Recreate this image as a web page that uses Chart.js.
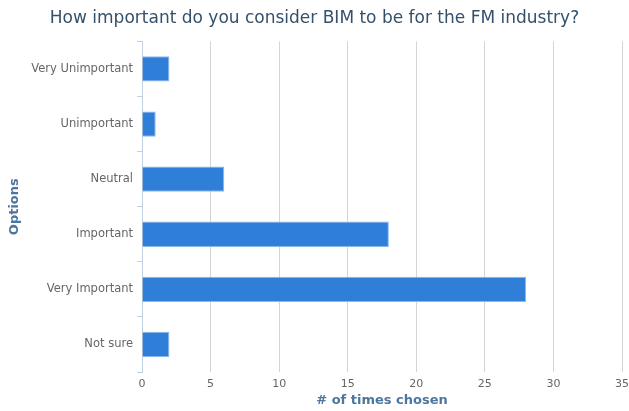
<!DOCTYPE html>
<html>
<head>
<meta charset="utf-8">
<script src="https://cdn.jsdelivr.net/npm/chart.js@4"></script>
<style>
  html, body { margin: 0; padding: 0; background: #fff; }
  #wrap { width: 629px; height: 411px; }
</style>
</head>
<body>
<div id="wrap"><canvas id="chart"></canvas></div>
<script>
const categories = ['Very Unimportant', 'Unimportant', 'Neutral', 'Important', 'Very Important', 'Not sure'];
const timesChosen = [2, 1, 6, 18, 28, 2];
const xTicks = { min: 0, max: 35, step: 5 };

const FONT = '"DejaVu Sans", Verdana, sans-serif';

new Chart(document.getElementById('chart'), {
  type: 'bar',
  data: {
    labels: categories,
    datasets: [{
      data: timesChosen,
      backgroundColor: '#2f7ed8',
      borderColor: '#8cb9ec',
      borderWidth: 1,
      barPercentage: 0.46,
      categoryPercentage: 1
    }]
  },
  options: {
    indexAxis: 'y',
    responsive: true,
    maintainAspectRatio: false,
    animation: false,
    layout: { padding: { left: 0, right: 0, top: 0, bottom: 0 } },
    plugins: {
      legend: { display: false },
      tooltip: { enabled: false },
      title: {
        display: true,
        text: 'How important do you consider BIM to be for the FM industry?',
        color: '#34506b',
        font: { family: FONT, size: 17, weight: 'normal' },
        padding: { top: 8, bottom: 13 }
      }
    },
    scales: {
      x: {
        min: xTicks.min,
        max: xTicks.max,
        afterFit: s => { s.height = 39; s.paddingRight = 7; s.paddingLeft = 0; },
        border: { display: false },
        grid: { color: '#d4d4d4', drawTicks: false },
        ticks: {
          stepSize: xTicks.step,
          padding: 6,
          color: '#666',
          font: { family: FONT, size: 11 }
        },
        title: {
          display: true,
          text: '# of times chosen',
          color: '#4d759e',
          font: { family: FONT, size: 13, weight: 'bold' },
          padding: { top: 0, bottom: 3 }
        }
      },
      y: {
        afterFit: s => { s.width = 142; },
        border: { color: '#c0d0e0' },
        grid: { drawOnChartArea: false, color: '#c0d0e0', tickLength: 5, offset: true },
        ticks: {
          padding: 4,
          color: '#666',
          font: { family: FONT, size: 11.5 }
        },
        title: {
          display: true,
          text: 'Options',
          color: '#4d759e',
          font: { family: FONT, size: 13, weight: 'bold' },
          padding: { top: 7, bottom: 0 }
        }
      }
    }
  }
});
</script>
</body>
</html>
